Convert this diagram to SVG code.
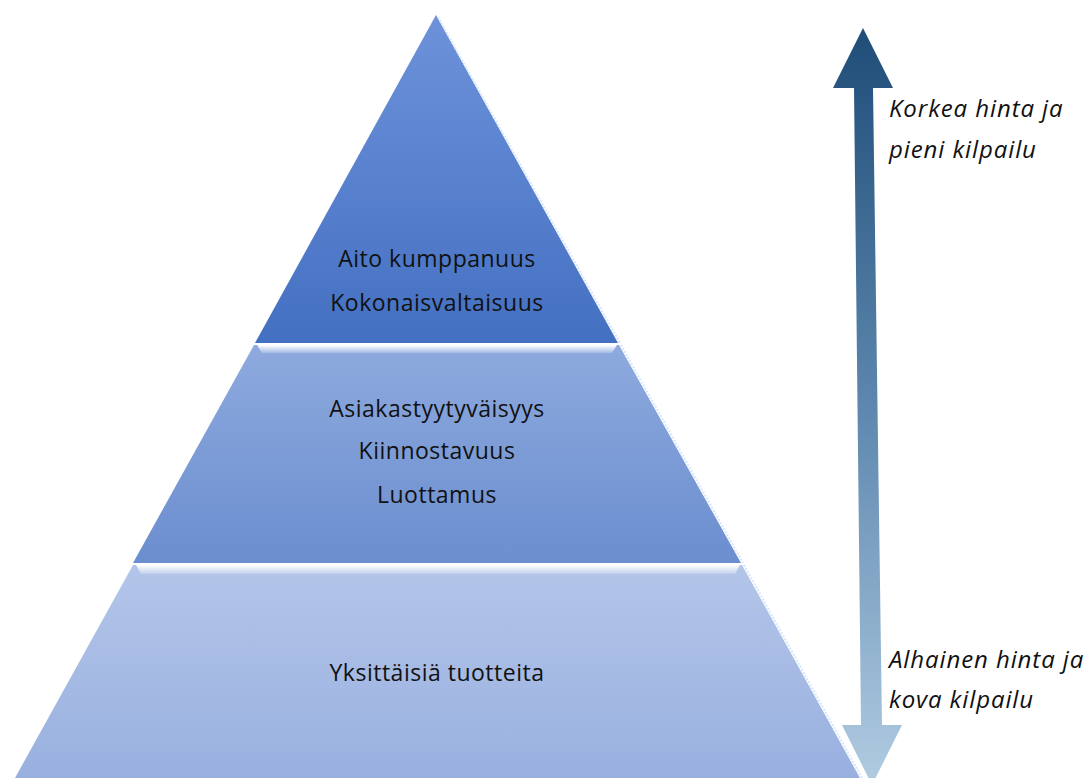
<svg xmlns="http://www.w3.org/2000/svg" width="1090" height="778" viewBox="0 0 1090 778">
<defs>
<linearGradient id="g1" x1="0" y1="0" x2="0" y2="1"><stop offset="0" stop-color="#6d92da"/><stop offset="1" stop-color="#4470c2"/></linearGradient>
<linearGradient id="g2" x1="0" y1="0" x2="0" y2="1"><stop offset="0" stop-color="#8eaade"/><stop offset="1" stop-color="#6b8ecf"/></linearGradient>
<linearGradient id="g3" x1="0" y1="0" x2="0" y2="1"><stop offset="0" stop-color="#b3c5e9"/><stop offset="1" stop-color="#99b0df"/></linearGradient>
<linearGradient id="ga" x1="0" y1="28" x2="0" y2="785" gradientUnits="userSpaceOnUse"><stop offset="0" stop-color="#1e4d78"/><stop offset="0.5" stop-color="#5d87ae"/><stop offset="1" stop-color="#b1cce2"/></linearGradient>
<linearGradient id="hl" x1="0" y1="0" x2="0" y2="1"><stop offset="0" stop-color="#ffffff"/><stop offset="1" stop-color="#ffffff" stop-opacity="0.2"/></linearGradient>
</defs>
<style>
.t{font-family:"Open Sans","Noto Sans",sans-serif;font-size:23px;letter-spacing:0.5px;fill:#111;text-anchor:middle}
.s{font-family:"Open Sans","Noto Sans",sans-serif;font-size:24px;letter-spacing:0.9px;font-style:italic;fill:#111}
.edge{fill:none;stroke:#d6e6fa;stroke-width:2;stroke-dasharray:2 1.5}
.hl{fill:url(#hl)}
</style>
<g id="tier1">
<polygon points="436,15 618,343 255,343" fill="url(#g1)"/>
<line class="edge" x1="438" y1="17" x2="620" y2="343"/>
<text class="t" x="437" y="267">Aito kumppanuus</text>
<text class="t" x="437" y="311">Kokonaisvaltaisuus</text>
</g>
<g id="tier2">
<polygon points="254,345 619,345 741,563 133,563" fill="url(#g2)"/>
<polygon class="hl" points="257,345 617,345 612,353 262,353"/>
<line class="edge" x1="621" y1="345" x2="743" y2="563"/>
<text class="t" x="437" y="417">Asiakastyytyväisyys</text>
<text class="t" x="437" y="459">Kiinnostavuus</text>
<text class="t" x="437" y="503">Luottamus</text>
</g>
<g id="tier3">
<polygon points="133,565 742,565 860,778 15,778" fill="url(#g3)"/>
<polygon class="hl" points="136,565 740,565 735,574 141,574"/>
<line class="edge" x1="744" y1="565" x2="862" y2="778"/>
<text class="t" x="437" y="681">Yksittäisiä tuotteita</text>
</g>
<g id="connectors">
<polygon points="863,28 893,88 873,88 882,725 902,725 872,785 842,725 861,725 854,88 833,88" fill="url(#ga)"/>
</g>
<g id="labels">
<text class="s" x="889" y="117">Korkea hinta ja</text>
<text class="s" x="889" y="158">pieni kilpailu</text>
<text class="s" x="889" y="668">Alhainen hinta ja</text>
<text class="s" x="889" y="708">kova kilpailu</text>
</g>
</svg>
